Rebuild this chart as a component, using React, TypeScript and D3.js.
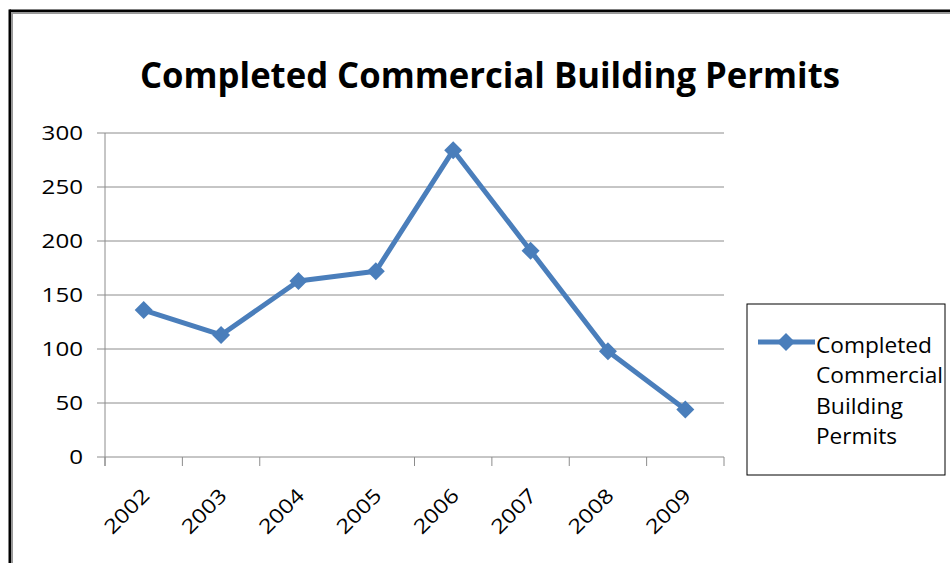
import React from "react";
import * as d3 from "d3";

const years = ["2002", "2003", "2004", "2005", "2006", "2007", "2008", "2009"];
const permits = [136, 113, 163, 172, 284, 191, 98, 44];
const yTicks = [0, 50, 100, 150, 200, 250, 300];
const chartTitle = "Completed Commercial Building Permits";
const legendLines = ["Completed", "Commercial", "Building", "Permits"];
const legendWidths = [116, 127, 87, 81];
const hiddenXTicks = [3];

const W = 950;
const H = 563;
const FONT = "'Open Sans', 'DejaVu Sans', sans-serif";
const BLUE = "#4a7ebb";
const GRID = "#8c8c8c";

export default function App() {
  const x = d3.scaleBand<string>().domain(years).range([105, 724]).padding(0);
  const y = d3.scaleLinear().domain([0, 300]).range([457, 133]);
  const cx = (d: string) => (x(d) as number) + x.bandwidth() / 2;

  const line = d3
    .line<number>()
    .x((_, i) => cx(years[i]))
    .y((v) => y(v));

  const diamond = (px: number, py: number, r: number) =>
    `M${px},${py - r}L${px + r},${py}L${px},${py + r}L${px - r},${py}Z`;

  const xTickPos = [...years.map((d) => x(d) as number), 724];

  return (
    <svg
      width={W}
      height={H}
      style={{ position: "absolute", left: 0, top: 0, background: "#fff" }}
    >
      <rect x={0} y={0} width={W} height={H} fill="#fff" />
      {/* frame */}
      <rect x={9.5} y={9.5} width={W} height={2.5} fill="#000" />
      <rect x={12} y={12} width={W} height={2} fill="#999" />
      <rect x={8.5} y={9.5} width={2.5} height={H} fill="#000" />
      <rect x={11} y={12} width={2} height={H} fill="#999" />

      {/* title */}
      <text
        x={490}
        y={88}
        textAnchor="middle"
        fontFamily={FONT}
        fontWeight="bold"
        fontSize={35}
        textLength={700}
        lengthAdjust="spacingAndGlyphs"
        fill="#000"
      >
        {chartTitle}
      </text>

      {/* gridlines and y ticks */}
      {yTicks.map((t) => (
        <g key={t}>
          <line x1={97} x2={724} y1={y(t)} y2={y(t)} stroke={GRID} strokeWidth={1} />
          <text
            x={83}
            y={y(t) + 7}
            textAnchor="end"
            fontFamily={FONT}
            fontSize={20}
            textLength={String(t).length * 13.8}
            lengthAdjust="spacingAndGlyphs"
            fill="#000"
          >
            {t}
          </text>
        </g>
      ))}
      {/* y axis */}
      <line x1={105} x2={105} y1={133} y2={466} stroke={GRID} strokeWidth={1} />
      {/* x ticks */}
      {xTickPos.map((p, i) =>
        hiddenXTicks.includes(i) ? null : (
          <line key={i} x1={p} x2={p} y1={457} y2={466} stroke={GRID} strokeWidth={1} />
        )
      )}
      {/* x labels */}
      {years.map((d) => {
        const px = cx(d) + 7;
        const py = 497;
        return (
          <text
            key={d}
            x={px}
            y={py}
            textAnchor="end"
            transform={`rotate(-45 ${px} ${py})`}
            fontFamily={FONT}
            fontSize={20}
            textLength={54}
            lengthAdjust="spacingAndGlyphs"
            fill="#000"
          >
            {d}
          </text>
        );
      })}

      {/* series */}
      <path
        d={line(permits) || ""}
        fill="none"
        stroke={BLUE}
        strokeWidth={5}
        strokeLinejoin="round"
      />
      {permits.map((v, i) => (
        <path key={i} d={diamond(cx(years[i]), y(v), 9)} fill={BLUE} />
      ))}

      {/* legend */}
      <rect x={747} y={304} width={198} height={171} fill="#fff" stroke="#000" strokeWidth={1} />
      <line x1={758} x2={815} y1={342} y2={342} stroke={BLUE} strokeWidth={5} />
      <path d={diamond(786, 342, 9)} fill={BLUE} />
      {legendLines.map((s, i) => (
        <text
          key={s}
          x={816}
          y={353 + i * 30.3}
          fontFamily={FONT}
          fontSize={21}
          textLength={legendWidths[i]}
          lengthAdjust="spacingAndGlyphs"
          fill="#000"
        >
          {s}
        </text>
      ))}
    </svg>
  );
}
